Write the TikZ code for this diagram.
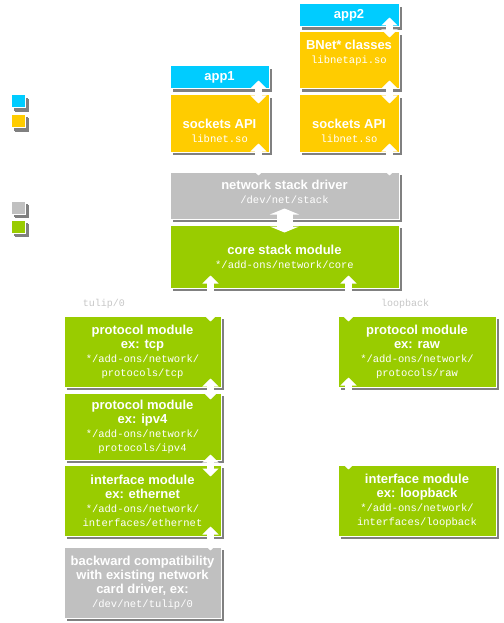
\documentclass[tikz,border=0pt]{standalone}
\usepackage{fontspec}
\setmainfont{Liberation Sans}
\setmonofont{Liberation Mono}
\usetikzlibrary{arrows.meta,shadows}
\definecolor{appblue}{HTML}{00CCFF}
\definecolor{apiyellow}{HTML}{FFCC00}
\definecolor{drvgray}{HTML}{C0C0C0}
\definecolor{modgreen}{HTML}{99CC00}
\definecolor{shade}{HTML}{808080}
\newcommand{\pth}[1]{{\ttfamily\mdseries\fontsize{10.5}{13}\selectfont #1}}

\begin{document}
\begin{tikzpicture}[x=1pt,y=-1pt]
	\tikzstyle{every node}=[font=\fontsize{13}{14}\selectfont\bfseries, text=white]
	\tikzstyle{box}=[draw=white, line width=1pt, inner sep=0pt, align=center, drop shadow={shadow xshift=3pt, shadow yshift=-3pt, fill=shade, opacity=1}]
	\tikzstyle{key}=[box, minimum width=14pt, minimum height=13pt, drop shadow={shadow xshift=4pt, shadow yshift=-4pt, fill=shade, opacity=1}]
	\tikzstyle{link}=[draw=white, line width=7pt, <->, >={Triangle[width=16pt,length=8pt]}]
	\tikzstyle{biglink}=[draw=white, line width=16pt, <->, >={Triangle[width=29pt,length=6pt]}]
	\useasboundingbox (0,0) rectangle (503,623);
	% legend
	\node [key, fill=appblue] (keyapp) at (18,101.5) {};
	\node [key, fill=apiyellow] (keyapi) at (18,121) {};
	\node [key, fill=drvgray] (keydrv) at (18,207.5) {};
	\node [key, fill=modgreen] (keymod) at (18,226.5) {};
	% user land
	\node [box, fill=appblue, minimum width=100pt, minimum height=23pt] (app2) at (349,15.5) {app2};
	\node [box, fill=apiyellow, minimum width=100pt, minimum height=57pt, label={[name=bnettxt, align=center, yshift=7.5pt]center:{BNet* classes\\\pth{libnetapi.so}}}] (bnet) at (349,60.5) {};
	\node [box, fill=apiyellow, minimum width=100pt, minimum height=57pt, label={[name=sock2txt, align=center, yshift=-7pt]center:{sockets API\\\pth{libnet.so}}}] (sock2) at (349,123.5) {};
	\node [box, fill=appblue, minimum width=99pt, minimum height=23pt] (app1) at (219.5,77.5) {app1};
	\node [box, fill=apiyellow, minimum width=99pt, minimum height=57pt, label={[name=sock1txt, align=center, yshift=-7pt]center:{sockets API\\\pth{libnet.so}}}] (sock1) at (219.5,123.5) {};
	% kernel side
	\node [box, fill=drvgray, minimum width=229pt, minimum height=47pt, label={[name=drvtxt, align=center, yshift=4pt]center:{network stack driver\\\pth{/dev/net/stack}}}] (driver) at (284.5,195.5) {};
	\node [box, fill=modgreen, minimum width=229pt, minimum height=63pt] (core) at (284.5,256.5) {core stack module\\\pth{*/add-ons/network/core}};
	\node [font=\ttfamily\fontsize{10}{12}\selectfont, text=gray!45] (tuliplbl) at (104,304) {tulip/0};
	\node [font=\ttfamily\fontsize{10}{12}\selectfont, text=gray!45] (looplbl) at (405,304) {loopback};
	\node [box, fill=modgreen, minimum width=157pt, minimum height=71pt] (tcp) at (142.5,351.5) {protocol module\\ex: tcp\\\pth{*/add-ons/network/}\\\pth{protocols/tcp}};
	\node [box, fill=modgreen, minimum width=157pt, minimum height=67pt] (ipv4) at (142.5,426.5) {protocol module\\ex: ipv4\\\pth{*/add-ons/network/}\\\pth{protocols/ipv4}};
	\node [box, fill=modgreen, minimum width=157pt, minimum height=71pt] (eth) at (142.5,500.5) {interface module\\ex: ethernet\\\pth{*/add-ons/network/}\\\pth{interfaces/ethernet}};
	\node [box, fill=drvgray, minimum width=157pt, minimum height=71pt] (compat) at (142.5,582.5) {backward compatibility\\with existing network\\card driver, ex:\\\pth{/dev/net/tulip/0}};
	\node [box, fill=modgreen, minimum width=158pt, minimum height=71pt] (raw) at (417,351.5) {protocol module\\ex: raw\\\pth{*/add-ons/network/}\\\pth{protocols/raw}};
	\node [box, fill=modgreen, minimum width=158pt, minimum height=71pt] (loop) at (417,500.5) {interface module\\ex: loopback\\\pth{*/add-ons/network/}\\\pth{interfaces/loopback}};
	% links
	\draw [link] ([xshift=-10pt,yshift=10pt]app2.south east) -- ([xshift=-10pt,yshift=-6pt]bnet.north east);
	\draw [link] ([xshift=-10pt,yshift=9pt]bnet.south east) -- ([xshift=-10pt,yshift=-9pt]sock2.north east);
	\draw [link] ([xshift=-11pt,yshift=9pt]app1.south east) -- ([xshift=-11pt,yshift=-9pt]sock1.north east);
	\draw [link] ([xshift=-11pt,yshift=9pt]sock1.south east) -- ([xshift=-11pt,yshift=-4pt]sock1.south east |- driver.north);
	\draw [link] ([xshift=-10pt,yshift=9pt]sock2.south east) -- ([xshift=-10pt,yshift=-4pt]driver.north east);
	\draw [biglink] ([yshift=11pt]driver.south) -- ([yshift=-8pt]core.north);
	\draw [link] ([xshift=-11pt,yshift=13pt]tcp.north east |- core.south) -- ([xshift=-11pt,yshift=-6pt]tcp.north east);
	\draw [link] ([xshift=11pt,yshift=13pt]raw.north west |- core.south) -- ([xshift=11pt,yshift=-6pt]raw.north west);
	\draw [link] ([xshift=-11pt,yshift=9pt]tcp.south east) -- ([xshift=-11pt,yshift=-7pt]ipv4.north east);
	\draw [link] ([xshift=-11pt,yshift=6pt]ipv4.south east) -- ([xshift=-11pt,yshift=-12pt]eth.north east);
	\draw [link] ([xshift=-11pt,yshift=10pt]eth.south east) -- ([xshift=-11pt,yshift=-4pt]compat.north east);
	\draw [link] ([xshift=11pt,yshift=10pt]raw.south west) -- ([xshift=11pt,yshift=-5pt]loop.north west);
\end{tikzpicture}
\end{document}
